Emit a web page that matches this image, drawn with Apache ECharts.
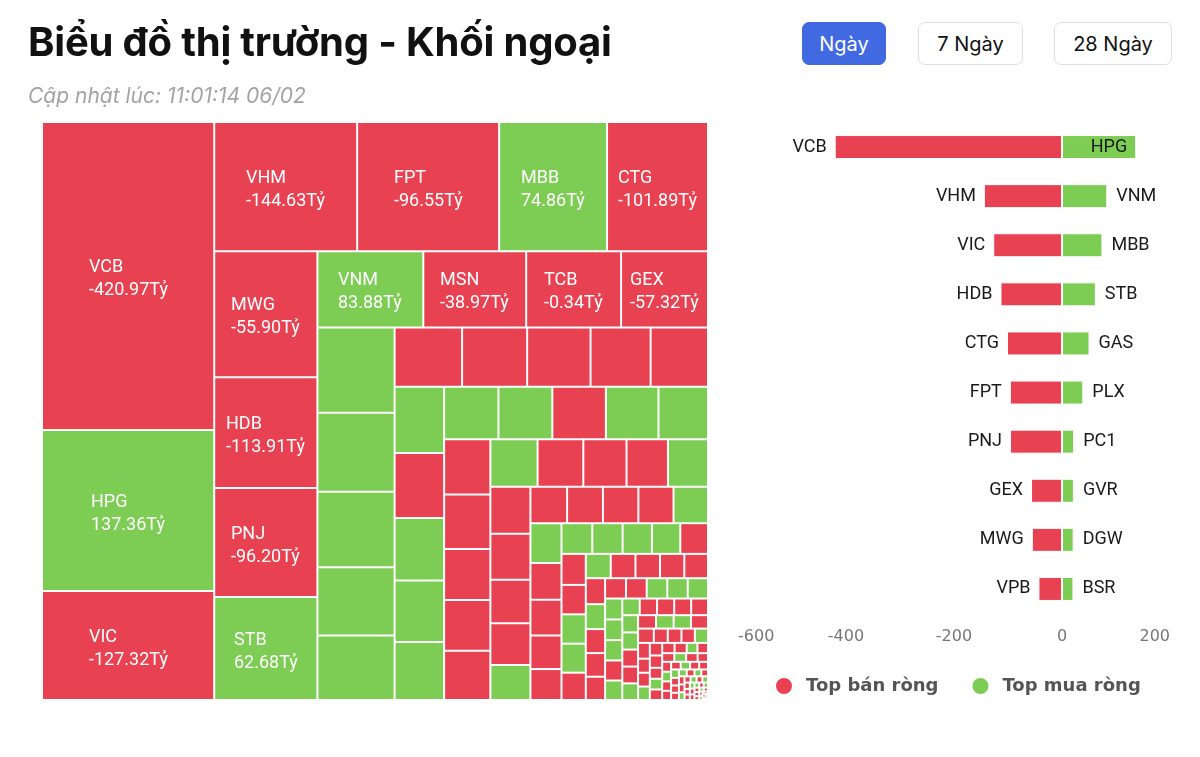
<!DOCTYPE html>
<html>
<head>
<meta charset="utf-8">
<script src="https://cdn.jsdelivr.net/npm/echarts/dist/echarts.min.js"></script>
<style>
html,body{margin:0;padding:0;background:#fff;width:1200px;height:757px;overflow:hidden;font-family:Inter,Roboto,sans-serif}
#chart{position:absolute;left:0;top:0;width:1200px;height:757px}
#title{position:absolute;left:28px;top:17px;font:700 40px Inter,sans-serif;color:#111;letter-spacing:-0.2px;white-space:nowrap}
#sub{position:absolute;left:28px;top:83px;font:italic 400 21px Inter,sans-serif;color:#a3a3a3;white-space:nowrap}
.btn{position:absolute;top:22px;height:43px;box-sizing:border-box;border:1px solid #dedede;border-radius:7px;font:400 20px Inter,sans-serif;color:#111;display:flex;align-items:center;justify-content:center;background:#fff}
#b1{left:802px;width:84px;background:#4169E1;border-color:#4169E1;color:#fff}
#b2{left:918px;width:105px}
#b3{left:1054px;width:118px}
</style>
</head>
<body>
<div id="chart"></div>
<div id="title">Biểu đồ thị trường - Khối ngoại</div>
<div id="sub">Cập nhật lúc: 11:01:14 06/02</div>
<div class="btn" id="b1">Ngày</div>
<div class="btn" id="b2">7 Ngày</div>
<div class="btn" id="b3">28 Ngày</div>
<script>
// ---- Bar chart data (net value, tỷ) ----
const sellNames = ['VCB','VHM','VIC','HDB','CTG','FPT','PNJ','GEX','MWG','VPB'];
const sellValues = [-420.97,-144.63,-127.32,-113.91,-101.89,-96.55,-96.20,-57.32,-55.90,-43.6];
const buyNames = ['HPG','VNM','MBB','STB','GAS','PLX','PC1','GVR','DGW','BSR'];
const buyValues = [137.36,83.88,74.86,62.68,51.0,39.5,22.5,22.0,21.6,21.2];
const xTickValues = [-600,-400,-200,0,200];
const legendNames = ['Top bán ròng','Top mua ròng'];

// ---- Treemap data ----
const treeNames = ['VCB','HPG','VIC','VHM','FPT','MBB','CTG','MWG','HDB','PNJ','STB','VNM','MSN','TCB','GEX'];
const treeNet = [-420.97,137.36,-127.32,-144.63,-96.55,74.86,-101.89,-55.90,-113.91,-96.20,62.68,83.88,-38.97,-0.34,-57.32];
const treeNamedSizes = [52976,27692,18748,18447,18318,13932,13029,12978,11433,11227,10609,8056,7828,7220,6612];
const tailSizes = [
  6584,6083,5814,5275,4967,
  4004,3861,3760,3564,3404,
  3274,3219,3091,3037,2870,
  2850,2830,2810,2760,2600,
  2547,2514,2361,2347,2269,
  2240,2170,2050,1965,1900,
  1880,1840,1735,1670,1400,
  1330,1300,1285,1275,1250,
  1240,1140,1107,1042,960,
  945,930,900,870,850,
  753,714,712,705,663,
  605,600,595,590,575,
  500,480,462,455,448,
  425,420,418,415,412,
  360,355,350,345,335,
  290,288,285,282,280,
  272,270,268,265,262,
  240,236,232,228,225,
  200,196,192,188,185,
  165,162,158,155,152,
  135,132,130,127,124,
  110,108,105,103,100,
  90,88,86,84,82,
  73,71,69,67,66,
  59,57,56,54,53,
  47,46,45,44,43,
  38,37,36,35,34,
  30,29,28,27,26,
  24,23,22,21,20,
  18,17,16,15,14,
  13,12,11,10,9,
  8,8,7,7,6,6,5,5,4,4,3,3,3,2,2,2,2,1,1,1,1,1
];
// +1 = net buy (green), -1 = net sell (red)
const tailSigns = [
  1,1,1,1,1,
  -1,-1,-1,-1,-1,
  1,-1,1,1,1,
  1,1,-1,1,1,
  -1,-1,-1,-1,-1,
  1,-1,-1,-1,1,
  -1,-1,-1,-1,1,
  -1,-1,-1,-1,1,
  1,-1,-1,-1,-1,
  1,1,1,1,-1,
  -1,-1,1,1,-1,
  1,-1,-1,-1,-1,
  -1,1,-1,-1,-1,
  -1,-1,1,1,1,
  1,1,1,-1,1,
  1,-1,-1,-1,-1,
  1,1,-1,-1,1,
  -1,1,1,-1,-1,
  -1,-1,-1,1,-1,
  -1,-1,1,-1,-1,
  -1,1,-1,-1,-1,
  1,-1,-1,1,-1,
  -1,-1,1,-1,-1,
  -1,1,-1,-1,1,
  -1,-1,-1,1,-1,
  1,-1,-1,-1,1,
  -1,1,-1,1,-1,
  -1,-1,1,-1,-1,
  1,-1,1,-1,-1,
  -1,1,-1,-1,1,
  -1,-1,1,-1,1,
  -1,1,-1,-1,1,-1,1,-1,-1,1,-1,-1,1,-1,1,-1,-1,1,-1,-1,1,-1
];

const RED = '#E84152', GREEN = '#7DCD55';
const TREE_LEFT = 41, TREE_TOP = 121;

const treeData = [];
treeNamedSizes.forEach((v, i) => {
  treeData.push({name: treeNames[i], value: v,
    itemStyle: {color: treeNet[i] >= 0 ? GREEN : RED}});
});
tailSizes.forEach((v, i) => {
  treeData.push({name: '', value: v,
    itemStyle: {color: tailSigns[i] > 0 ? GREEN : RED}});
});

const chart = echarts.init(document.getElementById('chart'), null, {renderer: 'canvas'});
chart.setOption({
  animation: false,
  legend: {
    data: legendNames, left: 769, top: 671, icon: 'circle',
    itemWidth: 34, itemHeight: 18, itemGap: 32,
    textStyle: {fontFamily: 'DejaVu Sans', fontWeight: 'bold', fontSize: 18, color: '#555'}
  },
  grid: {left: 738, width: 432, top: 122.5, height: 491, containLabel: false},
  xAxis: {
    type: 'value', min: xTickValues[0], max: xTickValues[xTickValues.length - 1],
    interval: xTickValues[1] - xTickValues[0],
    axisLine: {show: false}, axisTick: {show: false}, splitLine: {show: false},
    axisLabel: {color: '#777', fontSize: 16, fontFamily: 'DejaVu Sans', margin: 15,
      alignMinLabel: 'left', alignMaxLabel: 'right'}
  },
  yAxis: {type: 'category', inverse: true, data: sellNames.map((n, i) => n + '/' + buyNames[i]), show: false},
  series: [
    {
      type: 'treemap', left: TREE_LEFT, top: TREE_TOP, width: 668, height: 580,
      squareRatio: 0.9, sort: 'desc', roam: false, nodeClick: false,
      breadcrumb: {show: false}, visibleMin: 10,
      itemStyle: {borderColor: '#fff', borderWidth: 1, gapWidth: 0},
      upperLabel: {show: false},
      label: {show: false},
      emphasis: {disabled: true},
      data: treeData
    },
    {
      name: legendNames[0], type: 'bar', stack: 'net', barWidth: 24,
      data: sellValues,
      itemStyle: {color: RED, borderColor: '#fff', borderWidth: 1},
      label: {show: true, position: 'left', distance: 8, color: '#1a1a1a', fontSize: 18,
        fontFamily: 'Roboto', formatter: p => sellNames[p.dataIndex]}
    },
    {
      name: legendNames[1], type: 'bar', stack: 'net', barWidth: 24,
      data: buyValues.map(v => v > 120 ? {value: v, label: {position: 'insideRight'}} : v),
      itemStyle: {color: GREEN, borderColor: '#fff', borderWidth: 1},
      label: {show: true, position: 'right', distance: 9, color: '#1a1a1a', fontSize: 18,
        fontFamily: 'Roboto', formatter: p => buyNames[p.dataIndex]}
    }
  ]
});

// Tile labels: centred block with left-aligned lines, placed from the treemap's own layout
const measureCtx = document.createElement('canvas').getContext('2d');
measureCtx.font = '18px Roboto';
const labelEls = [];
try {
  const tree = chart.getModel().getSeriesByIndex(0).getData().tree;
  const root = tree.root;
  const rl = root.getLayout() || {x: 0, y: 0};
  root.children.forEach(node => {
    const idx = treeNames.indexOf(node.name);
    if (!node.name || idx < 0) return;
    const l = node.getLayout();
    if (!l) return;
    const l1 = node.name;
    const l2 = treeNet[idx].toFixed(2) + 'Tỷ';
    const w = Math.max(measureCtx.measureText(l1).width, measureCtx.measureText(l2).width);
    const cx = TREE_LEFT + (rl.x || 0) + l.x + l.width / 2;
    const cy = TREE_TOP + (rl.y || 0) + l.y + l.height / 2 + 3;
    labelEls.push({
      type: 'text', x: Math.round(cx - w / 2), y: Math.round(cy), silent: true, z: 100,
      style: {text: l1 + '\n' + l2, fill: '#fff', fontSize: 18, fontFamily: 'Roboto',
        lineHeight: 23, align: 'left', verticalAlign: 'middle'}
    });
  });
} catch (e) { console.error(e); }
chart.setOption({graphic: labelEls});
</script>
</body>
</html>
